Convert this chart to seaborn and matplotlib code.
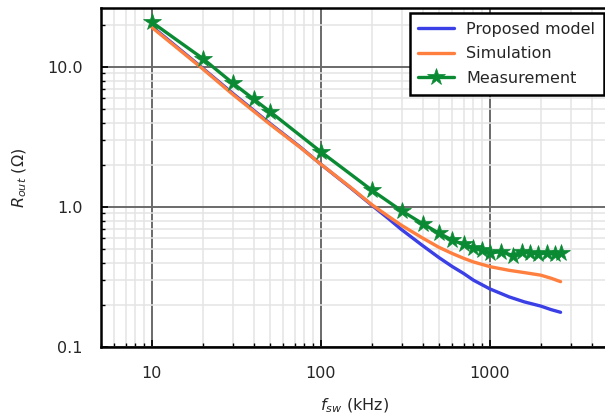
import numpy as np
import pandas as pd
import matplotlib
matplotlib.use("Agg")
import matplotlib.pyplot as plt
import matplotlib.ticker as mticker
import seaborn as sns

# ---- data ----
f_model = [10, 20, 30, 50, 75, 100, 150, 200, 250, 300, 400, 500, 600, 700, 800, 1000,
           1300, 1600, 2000, 2300, 2620]
r_model = [19.5, 9.8, 6.5, 3.95, 2.7, 2.02, 1.37, 1.03, 0.83, 0.69, 0.53, 0.435, 0.375, 0.335,
           0.30, 0.26, 0.228, 0.21, 0.196, 0.185, 0.177]

f_sim = [10, 20, 30, 50, 75, 100, 150, 200, 250, 300, 400, 500, 600, 700, 800, 1000,
         1300, 1600, 2000, 2300, 2620]
r_sim = [19.2, 9.7, 6.4, 3.9, 2.68, 2.02, 1.38, 1.04, 0.86, 0.74, 0.60, 0.515, 0.465, 0.43,
         0.405, 0.375, 0.353, 0.34, 0.326, 0.31, 0.293]

f_meas = [10, 20, 30, 40, 50, 100, 200, 300, 400, 500, 600, 700, 800, 900, 1000,
          1170, 1370, 1540, 1720, 1920, 2170, 2440, 2650]
r_meas = [20.9, 11.5, 7.7, 5.9, 4.8, 2.48, 1.32, 0.94, 0.76, 0.65, 0.58, 0.54, 0.51, 0.49, 0.47,
          0.48, 0.45, 0.48, 0.47, 0.465, 0.47, 0.46, 0.47]

series_names = ["Proposed model", "Simulation", "Measurement"]
colors = ["#3a3fe6", "#ff7f3f", "#0b8a34"]

x_ticks = [10, 100, 1000]
x_ticklabels = ["10", "100", "1000"]
y_ticks = [0.1, 1.0, 10.0]
y_ticklabels = ["0.1", "1.0", "10.0"]

df = pd.concat([
    pd.DataFrame({"f": f_model, "R": r_model, "series": series_names[0]}),
    pd.DataFrame({"f": f_sim, "R": r_sim, "series": series_names[1]}),
    pd.DataFrame({"f": f_meas, "R": r_meas, "series": series_names[2]}),
], ignore_index=True)

sns.set_style("white")
plt.rcParams['font.family'] = ['DejaVu Sans']

fig = plt.figure(figsize=(6.05, 4.16), dpi=100)
ax = fig.add_axes([101 / 605, 1 - 347 / 416, 507 / 605, 339 / 416])

for name, col in zip(series_names, colors):
    sub = df[df["series"] == name]
    kw = dict(linewidth=2.4, color=col, label=name, ax=ax, estimator=None, sort=False)
    if name == "Measurement":
        kw.update(marker="*", markersize=13, markeredgewidth=0.5, markeredgecolor=col)
    sns.lineplot(data=sub, x="f", y="R", **kw)

ax.set_xscale("log")
ax.set_yscale("log")
ax.set_xlim(5, 5000)
ax.set_ylim(0.1, 26.4)

ax.set_xticks(x_ticks)
ax.set_xticklabels(x_ticklabels)
ax.set_yticks(y_ticks)
ax.set_yticklabels(y_ticklabels)
ax.xaxis.set_minor_locator(mticker.LogLocator(base=10, subs=np.arange(2, 10)))
ax.yaxis.set_minor_locator(mticker.LogLocator(base=10, subs=np.arange(2, 10)))
ax.xaxis.set_minor_formatter(mticker.NullFormatter())
ax.yaxis.set_minor_formatter(mticker.NullFormatter())

ax.grid(True, which="minor", color="#e4e4e4", linewidth=1.1, zorder=0)
ax.grid(True, which="major", color="#6a6a6a", linewidth=1.4, zorder=0)
ax.set_axisbelow(True)

ax.tick_params(which="major", direction="in", length=5, width=1.2, labelsize=11.5,
               bottom=True, left=True, top=False, right=False, color="black")
ax.tick_params(axis="y", which="major", pad=13)
ax.tick_params(axis="x", which="major", pad=14)
ax.tick_params(which="minor", direction="in", length=3, width=1.0,
               bottom=True, left=True, top=False, right=False, color="black")

for side in ["left", "bottom", "top"]:
    ax.spines[side].set_visible(True)
    ax.spines[side].set_color("black")
    ax.spines[side].set_linewidth(1.8)
ax.spines["right"].set_visible(False)

ax.set_xlabel(r"$f_{sw}$ (kHz)", fontsize=11.5, labelpad=11)
ax.set_ylabel(r"$R_{out}$ ($\Omega$)", fontsize=11.5, labelpad=13)

leg = ax.legend(loc="upper right", bbox_to_anchor=((604 - 101) / 507, (347 - 13) / 339),
                frameon=True, fancybox=False, fontsize=11.5, handlelength=2.25, borderpad=0.55,
                labelspacing=0.6, handletextpad=0.75, borderaxespad=0.0)
leg.get_frame().set_edgecolor("black")
leg.get_frame().set_linewidth(1.8)
leg.get_frame().set_facecolor("white")
leg.get_frame().set_alpha(1.0)

fig.savefig("out.png", dpi=100)
